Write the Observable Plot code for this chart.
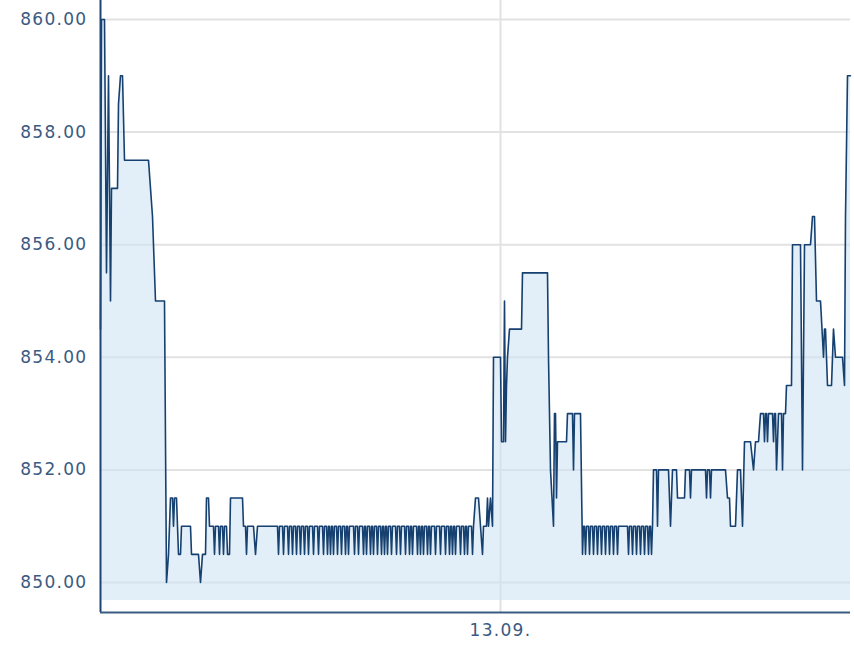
<!DOCTYPE html>
<html>
<head>
<meta charset="utf-8">
<script src="https://cdn.jsdelivr.net/npm/d3@7"></script>
<script src="https://cdn.jsdelivr.net/npm/@observablehq/plot@0.6"></script>
<style>
  html, body { margin: 0; padding: 0; background: #ffffff; }
  #chart svg { display: block; }
</style>
</head>
<body>
<div id="chart"></div>
<script>
// ---- data: [session time step, price] ----
const openSession = [
  [0,854.5],[1,860],[4,860],[6,855.5],[8,859],[10,855],[11,857],[17,857],[18,858.5],[20,859],
  [22,859],[24,857.5],[48,857.5],[50,857],[52,856.5],[55,855],[64,855],[66,850]
];

const lateDay12 = [
  [68,850.5],[70,851.5],[72,851.5],[73,851],[74,851.5],[76,851.5],[78,850.5],[80,850.5],[81,851],
  [90,851],[91,850.5],[98,850.5],[100,850],[102,850.5],[105,850.5],[106,851.5],[108,851.5],[109,851],
  [113,851],[114,850.5],[115,851],[118,851],[119,850.5],[120,851],[122,851],[123,850.5],[124,851],
  [126,851],[127,850.5],[129,850.5],[130,851.5],[142,851.5],[143,851],[145,851],[146,850.5],[147,851],
  [153,851],[155,850.5],[157,851],[177,851],[178,850.5],[179,851],[182,851],[183,850.5],[184,851],
  [187,851],[188,850.5],[189,851],
  [191,851],[192,850.5],[193,851],[195,851],[196,850.5],[197,851],[199,851],[200,850.5],[201,851],
  [203,851],[204,850.5],[205,851],[207,851],[208,850.5],[209,851],[212,851],[213,850.5],[214,851],
  [217,851],[218,850.5],[219,851],[222,851],[223,850.5],[224,851],[226,851],[227,850.5],[228,851],
  [229,851],[230,850.5],[231,851],[232,851],[233,850.5],[234,851],[236,851],[237,850.5],[238,851],
  [240,851],[241,850.5],[242,851],[244,851],[245,850.5],[246,851],[247,851],[248,850.5],[249,851],
  [253,851],[254,850.5],[255,851],[257,851],[258,850.5],[259,851],[262,851],[263,850.5],[264,851],
  [265,851],[266,850.5],[267,851],[269,851],[270,850.5],[271,851],[272,851],[273,850.5],[274,851],
  [276,851],[277,850.5],[278,851],[280,851],[281,850.5],[282,851],[283,851],[284,850.5],[285,851],
  [286,851],[287,850.5],[288,851],[290,851],[291,850.5],[292,851],[295,851],[296,850.5],[297,851],
  [299,851],[300,850.5],[301,851],[304,851],[305,850.5],[306,851],[308,851],[309,850.5],[310,851],
  [311,851],[312,850.5],[313,851],[316,851],[317,850.5],[318,851],[319,851],[320,850.5],[321,851],
  [322,851],[323,850.5],[324,851],[326,851],[327,850.5],[328,851],[329,851],[330,850.5],[331,851],
  [334,851],[335,850.5],[336,851],[339,851],[340,850.5],[341,851],[344,851],[345,850.5],[346,851],
  [348,851],[349,850.5],[350,851],[351,851],[352,850.5],[353,851],[354,851],[355,850.5],[356,851],
  [359,851],[360,850.5],[361,851],[363,851],[364,850.5],[365,851],[366,851],[367,850.5],[368,851],
  [371,851],[372,850.5],[373,851],[375,851.5],[378,851.5],[380,851],[382,850.5],[383,851],[386,851],
  [387,851.5],[388,851],[390,851.5],[392,851]
];

const day13 = [
  [393,854],[400,854],[401,852.5],[403,852.5],[404,855],[405,852.5],[406,853.5],[407,854],[409,854.5],
  [421,854.5],[422,855.5],[447,855.5],[448,854],[450,852],[453,851],[454,853],[455,853],[456,851.5],
  [457,852.5],[466,852.5],[467,853],[472,853],[473,852],[474,853],[480,853],[482,850.5],[483,851],
  [484,851],[485,850.5],[486,851],[488,851],[489,850.5],[490,851],[492,851],[493,850.5],[494,851],
  [496,851],[497,850.5],[498,851],[500,851],[501,850.5],[502,851],[504,851],[505,850.5],[506,851],
  [508,851],[509,850.5],[510,851],[512,851],[513,850.5],[514,851],[516,851],[517,850.5],[518,851],
  [527,851],[528,850.5],[529,851],[531,851],[532,850.5],[533,851],[535,851],[536,850.5],[537,851],
  [539,851],[540,850.5],[541,851],[543,851],[544,850.5],[545,851],[547,851],[548,850.5],[549,851],
  [550,851],[551,850.5],[552,851],
  [553,852],[556,852],[557,851],[558,852],[568,852],[570,851],[572,852],[576,852],[577,851.5],
  [584,851.5],[585,852],[589,852],[590,851.5],[591,852],[605,852],[606,851.5],[607,852],[609,852],
  [610,851.5],[611,852],[625,852],[627,851.5],[629,851.5],[630,851],[635,851],[637,852],[640,852],
  [642,851],[644,852.5],[650,852.5],[653,852],[655,852.5],[658,852.5],[660,853],[663,853],[664,852.5],
  [665,853],[666,853],[667,852.5],[668,853],[672,853],[673,852.5],[674,853],[675,853],[676,852],
  [678,853],[681,853],[682,852],[683,853],[685,853],[686,853.5],[691,853.5],[692,856],[700,856],
  [702,852],[704,856],[710,856],[712,856.5],[714,856.5],[716,855],[720,855],[723,854],[724,854.5],
  [725,854.5],[727,853.5],[731,853.5],[733,854.5],[735,854],[742,854],[744,853.5],[745,856.5],
  [747,859],[750,859]
];

const yTicks = [850, 852, 854, 856, 858, 860];
const dayTicks = [400];
const dayLabels = ["13.09."];
const timeDomain = [0, 750];
const priceDomain = [849.467, 860.337];
const areaBase = 849.68;

const data = [...openSession, ...lateDay12, ...day13].map(([t, price]) => ({t, price}));

const chart = Plot.plot({
  width: 854,
  height: 645,
  marginLeft: 100,
  marginRight: 4,
  marginTop: 0,
  marginBottom: 33,
  style: {fontFamily: "'DejaVu Sans', Verdana, sans-serif", fontSize: "17px", letterSpacing: "1.3px", background: "#ffffff"},
  x: {domain: timeDomain, axis: null},
  y: {domain: priceDomain, axis: null},
  marks: [
    Plot.ruleY(yTicks, {stroke: "#e2e2e2", strokeWidth: 2}),
    Plot.ruleX(dayTicks, {stroke: "#e2e2e2", strokeWidth: 2}),
    Plot.areaY(data, {x: "t", y1: areaBase, y2: "price", fill: "#cfe2f4", fillOpacity: 0.6}),
    Plot.line(data, {x: "t", y: "price", stroke: "#15406f", strokeWidth: 1.6}),
    Plot.axisY(yTicks, {anchor: "left", label: null, tickSize: 0, tickPadding: 13, color: "#3a5a82", tickFormat: d => d.toFixed(2)}),
    Plot.axisX(dayTicks, {anchor: "bottom", label: null, tickSize: 0, tickPadding: 11, color: "#3a5a82", tickFormat: d => dayLabels[dayTicks.indexOf(d)]}),
    Plot.ruleX([timeDomain[0]], {stroke: "#1d4674", strokeWidth: 2}),
    Plot.ruleY([priceDomain[0]], {stroke: "#3a5c80", strokeWidth: 2})
  ]
});

document.getElementById("chart").appendChild(chart);
</script>
</body>
</html>
